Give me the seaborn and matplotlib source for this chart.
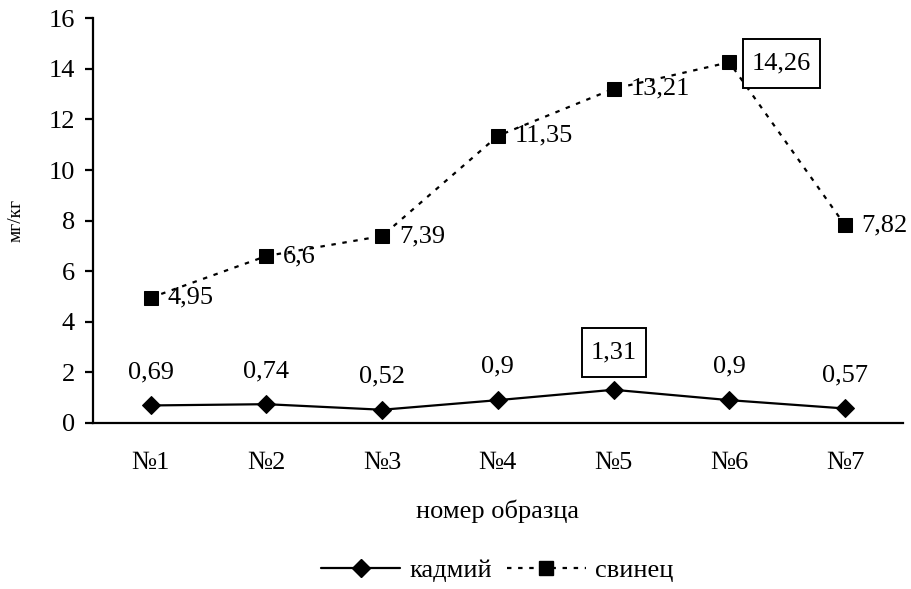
import matplotlib
matplotlib.use("Agg")
import matplotlib.pyplot as plt
from matplotlib.lines import Line2D
from matplotlib.path import Path
import seaborn as sns
import pandas as pd

samples = ["№1", "№2", "№3", "№4", "№5", "№6", "№7"]
cadmium = [0.69, 0.74, 0.52, 0.9, 1.31, 0.9, 0.57]
lead = [4.95, 6.6, 7.39, 11.35, 13.21, 14.26, 7.82]
cadmium_labels = ["0,69", "0,74", "0,52", "0,9", "1,31", "0,9", "0,57"]
lead_labels = ["4,95", "6,6", "7,39", "11,35", "13,21", "14,26", "7,82"]
y_ticks = [0, 2, 4, 6, 8, 10, 12, 14, 16]

sns.set_theme(style="white")
plt.rcParams["font.family"] = ["Liberation Serif", "DejaVu Serif"]
for key in ["text.color", "axes.labelcolor", "xtick.color", "ytick.color"]:
    plt.rcParams[key] = "black"

pos = list(range(1, len(samples) + 1))
df = pd.DataFrame({"pos": pos * 2,
                   "value": cadmium + lead,
                   "metal": ["кадмий"] * len(pos) + ["свинец"] * len(pos)})

dash = (0, (2.0, 3.0))
lw = 1.6


def tall_box(x0, y0, width, height, mutation_size):
    """Rectangular frame with more vertical than horizontal padding."""
    px, py = 0.34 * mutation_size, 0.5 * mutation_size
    x1, y1 = x0 + width + px, y0 + height + py
    x0, y0 = x0 - px, y0 - py
    return Path([(x0, y0), (x1, y0), (x1, y1), (x0, y1), (x0, y0)], closed=True)


fig = plt.figure(figsize=(9.11, 5.89), dpi=100)
ax = fig.add_axes([0.102, 0.282, 0.889, 0.687])

sns.lineplot(data=df[df.metal == "кадмий"], x="pos", y="value", ax=ax,
             color="black", lw=lw, marker="D", markersize=9,
             markeredgecolor="black", markerfacecolor="black", legend=False)
sns.lineplot(data=df[df.metal == "свинец"], x="pos", y="value", ax=ax,
             color="black", lw=lw, marker="s", markersize=10.5,
             markeredgecolor="black", markerfacecolor="black", legend=False)
ax.get_lines()[1].set_linestyle(dash)

fs = 19
box = dict(boxstyle=tall_box, fc="white", ec="black", lw=1.4)
for i, (p, v) in enumerate(zip(pos, cadmium)):
    boxed = cadmium_labels[i] == "1,31"
    ax.annotate(cadmium_labels[i], (p, v), xytext=(0, 19 if boxed else 16),
                textcoords="offset points", ha="center", va="bottom", fontsize=fs,
                bbox=box if boxed else None)
for i, (p, v) in enumerate(zip(pos, lead)):
    boxed = lead_labels[i] == "14,26"
    ax.annotate(lead_labels[i], (p, v), xytext=(16 if boxed else 12, -1 if boxed else 0),
                textcoords="offset points", ha="left", va="center", fontsize=fs,
                bbox=box if boxed else None, zorder=5)

ax.set_xlim(0.5, len(samples) + 0.5)
ax.set_ylim(0, 16)
ax.set_yticks(y_ticks)
ax.set_yticklabels([str(t) for t in y_ticks], fontsize=fs)
ax.set_xticks([p + 0.5 for p in [0] + pos])
ax.set_xticklabels([])
ax.set_xticks(pos, minor=True)
ax.set_xticklabels(samples, minor=True, fontsize=fs)
ax.tick_params(axis="x", which="major", direction="out", length=7, width=1.6, color="black")
ax.tick_params(axis="x", which="minor", length=0, pad=21)
ax.tick_params(axis="y", direction="out", length=6, width=1.6, color="black", left=True, pad=7)
for side in ["top", "right"]:
    ax.spines[side].set_visible(False)
for side in ["left", "bottom"]:
    ax.spines[side].set_color("black")
    ax.spines[side].set_linewidth(1.6)

ax.set_xlabel("номер образца", fontsize=fs, labelpad=18)
ax.set_ylabel("мг/кг", fontsize=14)
ax.yaxis.set_label_coords(-0.084, 0.5)

handles = [Line2D([], [], color="black", lw=lw, marker="D", markersize=9),
           Line2D([], [], color="black", lw=lw, marker="s", markersize=10.5,
                  linestyle=dash)]
fig.legend(handles, ["кадмий", "свинец"], loc="center", bbox_to_anchor=(0.546, 0.032),
           ncol=2, frameon=False, fontsize=fs, handlelength=3.0, handletextpad=0.35,
           columnspacing=0.55)

fig.savefig("out.png", dpi=100, facecolor="white")
